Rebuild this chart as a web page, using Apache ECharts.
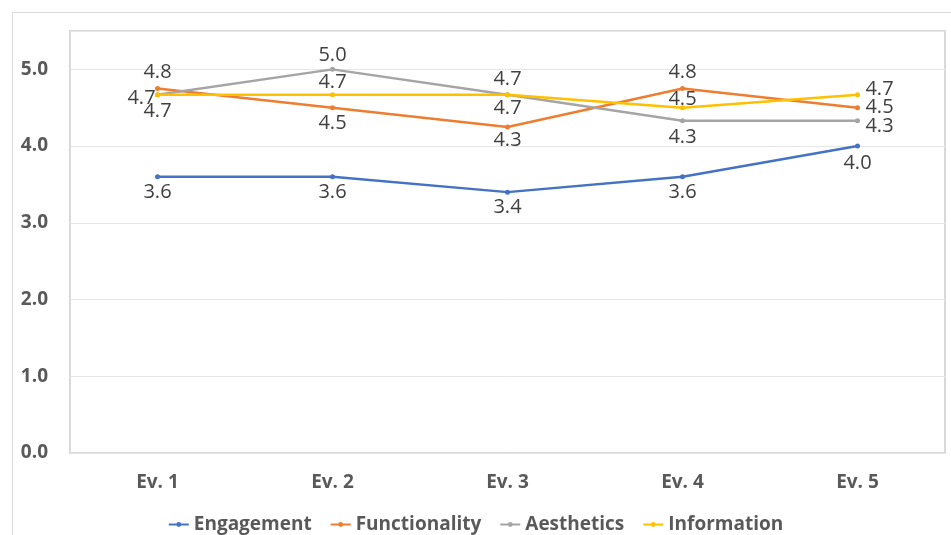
<!DOCTYPE html>
<html>
<head>
<meta charset="utf-8">
<script src="https://cdn.jsdelivr.net/npm/echarts@6/dist/echarts.min.js"></script>
<style>
  html, body { margin: 0; padding: 0; background: #fff; }
  #chart { width: 951px; height: 535px; }
</style>
</head>
<body>
<div id="chart"></div>
<script>
// Evaluation rounds and mean scores per rating dimension
const categories = ['Ev. 1', 'Ev. 2', 'Ev. 3', 'Ev. 4', 'Ev. 5'];
const engagement = [3.6, 3.6, 3.4, 3.6, 4.0];
const functionality = [4.75, 4.5, 4.25, 4.75, 4.5];
const aesthetics = [4.67, 5.0, 4.67, 4.33, 4.33];
const information = [4.67, 4.67, 4.67, 4.5, 4.67];
const yTicks = [0, 1, 2, 3, 4, 5];

// Label offsets (px) from each point's centre, per series
const labelOffsets = {
  Engagement:    [[0, 16], [0, 16], [0, 15], [0, 16], [0, 17]],
  Functionality: [[0, -16], [0, 16], [0, 13], [0, -16], [22, 0]],
  Aesthetics:    [[-16, 4], [0, -14], [0, -15], [0, 17], [22, 6]],
  Information:   [[0, 17], [0, -12], [0, 14], [0, -8], [22, -5]]
};

const seriesDefs = [
  { name: 'Engagement', data: engagement, color: '#4472C4' },
  { name: 'Functionality', data: functionality, color: '#ED7D31' },
  { name: 'Aesthetics', data: aesthetics, color: '#A5A5A5' },
  { name: 'Information', data: information, color: '#FFC000' }
];

const FONT = '"Open Sans", "Noto Sans", sans-serif';

const chart = echarts.init(document.getElementById('chart'), null, { renderer: 'canvas' });

chart.setOption({
  animation: false,
  backgroundColor: '#ffffff',
  graphic: [{
    type: 'rect',
    silent: true,
    shape: { x: 12.5, y: 12.5, width: 1000, height: 600 },
    style: { fill: 'none', stroke: '#d9d9d9', lineWidth: 1 },
    z: -10
  }],
  grid: {
    left: 70, right: 6, top: 31, bottom: 82,
    show: true, borderColor: '#d9d9d9', borderWidth: 2, backgroundColor: 'transparent'
  },
  legend: {
    top: 510,
    left: 'center',
    itemWidth: 20,
    itemHeight: 6,
    itemGap: 18,
    textStyle: { fontFamily: FONT, fontSize: 19, fontWeight: 'bold', color: '#595959' },
    data: seriesDefs.map(s => s.name)
  },
  xAxis: {
    type: 'category',
    data: categories,
    boundaryGap: true,
    axisLine: { show: false },
    axisTick: { show: false },
    axisLabel: {
      margin: 20,
      fontFamily: FONT, fontSize: 19, fontWeight: 'bold', color: '#595959'
    }
  },
  yAxis: {
    type: 'value',
    min: 0,
    max: 5.5,
    interval: 1,
    axisLine: { show: false },
    axisTick: { show: false },
    splitLine: { lineStyle: { color: '#e6e6e6', width: 1 } },
    axisLabel: {
      margin: 22,
      showMaxLabel: false,
      fontFamily: FONT, fontSize: 19, fontWeight: 'bold', color: '#595959',
      formatter: v => (yTicks.indexOf(v) >= 0 ? v.toFixed(1) : '')
    }
  },
  series: seriesDefs.map(s => ({
    name: s.name,
    type: 'line',
    symbol: 'circle',
    symbolSize: 5,
    color: s.color,
    lineStyle: { width: 2.5, color: s.color },
    itemStyle: { color: s.color },
    data: s.data.map((v, i) => ({
      value: v,
      label: {
        show: true,
        position: 'inside',
        offset: labelOffsets[s.name][i],
        formatter: p => p.value.toFixed(1),
        fontFamily: FONT,
        fontSize: 20,
        color: '#404040'
      }
    }))
  }))
});
</script>
</body>
</html>
